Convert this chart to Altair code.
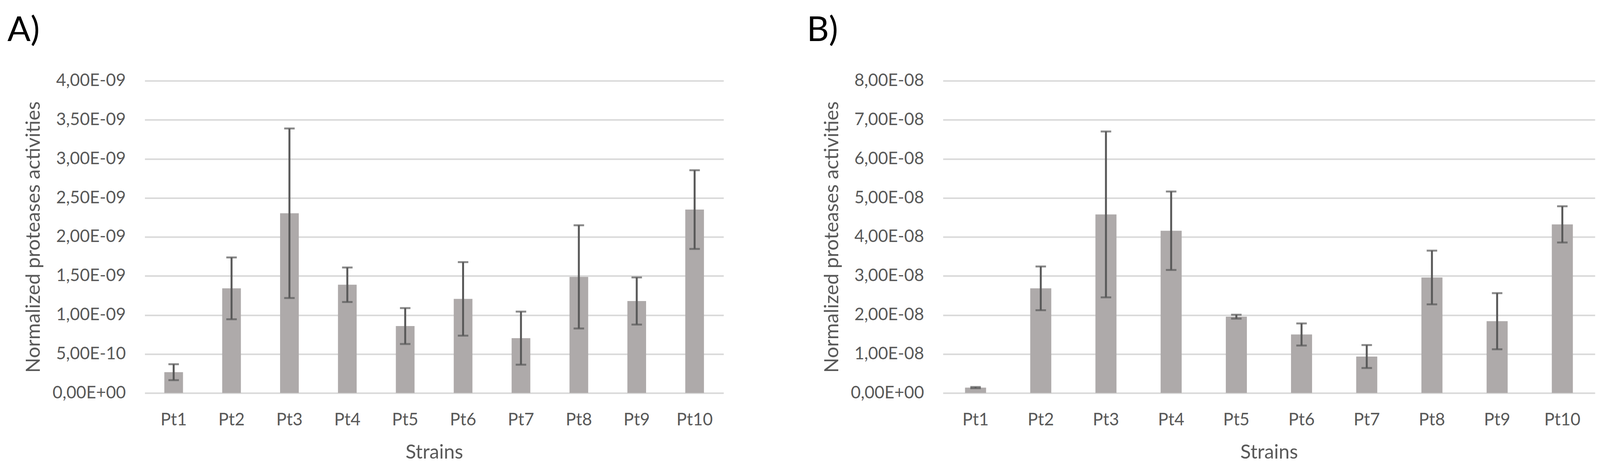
import altair as alt
import pandas as pd

strains = ["Pt1", "Pt2", "Pt3", "Pt4", "Pt5", "Pt6", "Pt7", "Pt8", "Pt9", "Pt10"]

# Panel A (values in units of 1e-9)
a_values = [0.267, 1.341, 2.303, 1.387, 0.858, 1.206, 0.703, 1.488, 1.179, 2.350]
a_errors = [0.102, 0.396, 1.086, 0.221, 0.230, 0.471, 0.340, 0.661, 0.302, 0.504]
a_ticks = [0, 0.5e-9, 1.0e-9, 1.5e-9, 2.0e-9, 2.5e-9, 3.0e-9, 3.5e-9, 4.0e-9]
a_tick_labels = ["0,00E+00", "5,00E-10", "1,00E-09", "1,50E-09", "2,00E-09",
                 "2,50E-09", "3,00E-09", "3,50E-09", "4,00E-09"]

# Panel B (values in units of 1e-8)
b_values = [0.139, 2.682, 4.576, 4.158, 1.956, 1.500, 0.935, 2.960, 1.840, 4.321]
b_errors = [0.015, 0.560, 2.125, 1.005, 0.050, 0.283, 0.294, 0.688, 0.719, 0.464]
b_ticks = [0, 1e-8, 2e-8, 3e-8, 4e-8, 5e-8, 6e-8, 7e-8, 8e-8]
b_tick_labels = ["0,00E+00", "1,00E-08", "2,00E-08", "3,00E-08", "4,00E-08",
                 "5,00E-08", "6,00E-08", "7,00E-08", "8,00E-08"]

TEXT = "#595959"
BAR = "#AEAAAA"
ERR = "#595959"
GRID = "#D9D9D9"
FONT = "Lato"


def panel(values, errors, unit, ticks, labels, step, width, title, dx):
    df = pd.DataFrame({
        "strain": strains,
        "value": [v * unit for v in values],
        "err": [e * unit for e in errors],
    })
    df["lo"] = df["value"] - df["err"]
    df["hi"] = df["value"] + df["err"]

    xscale = alt.Scale(paddingInner=0.677, paddingOuter=0.3385)
    yscale = alt.Scale(domain=[0, ticks[-1]], nice=False, zero=True)
    label_expr = "[" + ",".join("'" + l + "'" for l in labels) + "][round(datum.value / " + repr(step) + ")]"

    xaxis = alt.Axis(
        title="Strains", labelAngle=0, ticks=False, tickSize=0, domain=False, grid=False,
        labelFont=FONT, labelFontSize=44, labelColor=TEXT, labelPadding=83,
        labelBaseline="alphabetic", labelLimit=400,
        titleFont=FONT, titleFontSize=50, titleFontWeight="normal", titleColor=TEXT,
        titleY=168, titleBaseline="alphabetic",
    )
    yaxis = alt.Axis(
        values=ticks, labelExpr=label_expr, grid=True, gridColor=GRID, gridWidth=4,
        domain=False, ticks=False, tickSize=0, labelPadding=49, labelLimit=400,
        labelFont=FONT, labelFontSize=44, labelColor=TEXT,
        title="Normalized proteases activities", titleFont=FONT, titleFontSize=51,
        titleFontWeight="normal", titleColor=TEXT, titleAngle=270, titleX=-270,
        titleY=401, titleBaseline="alphabetic", titleAlign="center", titleLimit=1000,
    )

    x_enc = alt.X("strain:N", sort=strains, scale=xscale, axis=xaxis)

    bars = alt.Chart(df).mark_bar(color=BAR).encode(
        x=x_enc, y=alt.Y("value:Q", scale=yscale, axis=yaxis)
    )
    stems = alt.Chart(df).mark_rule(color=ERR, strokeWidth=5).encode(
        x=x_enc, y=alt.Y("lo:Q", scale=yscale, axis=yaxis), y2="hi:Q"
    )
    cap_hi = alt.Chart(df).mark_tick(color=ERR, thickness=5, size=27).encode(
        x=x_enc, y=alt.Y("hi:Q", scale=yscale, axis=yaxis)
    )
    cap_lo = alt.Chart(df).mark_tick(color=ERR, thickness=5, size=27).encode(
        x=x_enc, y=alt.Y("lo:Q", scale=yscale, axis=yaxis)
    )
    return alt.layer(bars, stems, cap_hi, cap_lo).properties(
        width=width, height=802,
        title=alt.TitleParams(
            title, anchor="start", frame="group", dx=dx, offset=62,
            fontSize=88, font=FONT, fontWeight="normal", color="black",
        ),
    )


chart_a = panel(a_values, a_errors, 1e-9, a_ticks, a_tick_labels, 5e-10, 1488, "A)", -353)
chart_b = panel(b_values, b_errors, 1e-8, b_ticks, b_tick_labels, 1e-8, 1676, "B)", -350)

chart = alt.hconcat(chart_a, chart_b, spacing=214).properties(
    padding={"left": 11, "top": 25, "right": 5, "bottom": 5},
    background="white",
).configure_view(stroke=None)

chart.save("out.html", embed_options={"renderer": "svg", "actions": False})
